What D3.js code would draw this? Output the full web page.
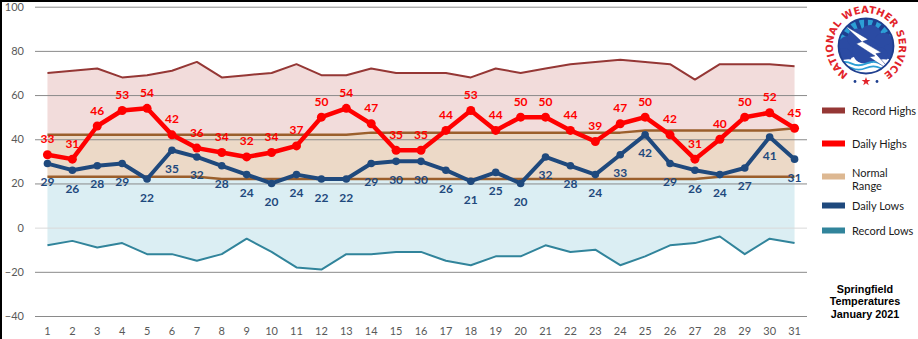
<!DOCTYPE html>
<html>
<head>
<meta charset="utf-8">
<script src="https://cdn.jsdelivr.net/npm/d3@7"></script>
<style>
  body { margin: 0; background: #fff; }
  svg { display: block; }
</style>
</head>
<body>
<svg id="chart"></svg>
<script>
const width = 918, height = 339;

// data, January 2021, Springfield
const days = d3.range(1, 32);
const recordHighs = [70,71,72,68,69,71,75,68,69,70,74,69,69,72,70,70,70,68,72,70,72,74,75,76,75,74,67,74,74,74,73];
const dailyHighs = [33,31,46,53,54,42,36,34,32,34,37,50,54,47,35,35,44,53,44,50,50,44,39,47,50,42,31,40,50,52,45];
const normalHighs = [42,42,42,42,42,42,42,42,42,42,42,42,42,43,43,43,43,43,43,43,43,43,43,43,44,44,44,44,44,44,45];
const normalLows = [23,23,23,23,23,23,23,22,22,22,22,22,22,22,22,22,22,22,22,22,22,22,22,22,22,22,22,23,23,23,23];
const dailyLows = [29,26,28,29,22,35,32,28,24,20,24,22,22,29,30,30,26,21,25,20,32,28,24,33,42,29,26,24,27,41,31];
const recordLows = [-8,-6,-9,-7,-12,-12,-15,-12,-5,-11,-18,-19,-12,-12,-11,-11,-15,-17,-13,-13,-8,-11,-10,-17,-13,-8,-7,-4,-12,-5,-7];
const yTicks = [-40,-20,0,20,40,60,80,100];
const legendNames = ["Record Highs", "Daily Highs", "Normal Range", "Daily Lows", "Record Lows"];
const legendColors = ["#953735", "#ff0000", "#ddb892", "#1f497d", "#31849b"];
const titleLines = ["Springfield", "Temperatures", "January 2021"];

const svg = d3.select("#chart").attr("width", width).attr("height", height);

const x = d3.scaleBand().domain(days).range([35, 807]).padding(0);
const cx = d => x(d) + x.bandwidth() / 2;
const y = d3.scaleLinear().domain([-40, 100]).range([316, 6.7]);

const rows = days.map((d, i) => ({
    day: d, rh: recordHighs[i], dh: dailyHighs[i], nh: normalHighs[i],
    nl: normalLows[i], dl: dailyLows[i], rl: recordLows[i]
}));

//shaded bands
const band = (lo, hi, fill) => svg.append("path")
    .datum(rows)
    .attr("fill", fill)
    .attr("d", d3.area().x(d => cx(d.day)).y0(d => y(d[lo])).y1(d => y(d[hi])));
band("nh", "rh", "#f2dcdb");
band("nl", "nh", "#ecd9c7");
band("rl", "nl", "#dbeef3");

//gridlines + y labels
const yAxis = svg.append("g")
    .attr("transform", "translate(35,0)")
    .call(d3.axisLeft(y).tickValues(yTicks).tickSize(-772).tickPadding(11));
yAxis.select(".domain").remove();
yAxis.selectAll(".tick line").attr("stroke", d => d === 0 ? "#d9d9d9" : "#8a8a8a").attr("stroke-width", 1);
yAxis.selectAll(".tick text")
    .attr("fill", "#595959")
    .style("font-family", "Lato, 'Liberation Sans', sans-serif")
    .style("font-size", "11px");

//x labels
const xAxis = svg.append("g")
    .attr("transform", "translate(0,316)")
    .call(d3.axisBottom(x).tickSize(0).tickPadding(11));
xAxis.select(".domain").remove();
xAxis.selectAll(".tick text")
    .attr("fill", "#595959")
    .style("font-family", "Lato, 'Liberation Sans', sans-serif")
    .style("font-size", "11px");

//lines
const line = (key, color, w) => svg.append("path")
    .datum(rows)
    .attr("fill", "none")
    .attr("stroke", color)
    .attr("stroke-width", w)
    .attr("stroke-linejoin", "round")
    .attr("d", d3.line().x(d => cx(d.day)).y(d => y(d[key])));

line("nh", "#9b5f2c", 2.5);
line("nl", "#9b5f2c", 2.5);
line("rh", "#953735", 2);
line("rl", "#31849b", 2);
line("dl", "#1f497d", 4);
line("dh", "#ff0000", 4.5);

//markers
svg.append("g").selectAll("circle")
    .data(rows).enter().append("circle")
    .attr("cx", d => cx(d.day)).attr("cy", d => y(d.dl)).attr("r", 3.8)
    .attr("fill", "#1f497d");
svg.append("g").selectAll("circle")
    .data(rows).enter().append("circle")
    .attr("cx", d => cx(d.day)).attr("cy", d => y(d.dh)).attr("r", 4.5)
    .attr("fill", "#ff0000");

//data labels
const labelFont = "Lato, 'Liberation Sans', sans-serif";
svg.append("g").selectAll("text")
    .data(rows).enter().append("text")
    .attr("x", d => cx(d.day)).attr("y", d => y(d.dh) - 11.5)
    .attr("text-anchor", "middle")
    .text(d => d.dh)
    .style("fill", "#ff0000").style("font-weight", "bold")
    .style("font-family", labelFont).style("font-size", "12px");
svg.append("g").selectAll("text")
    .data(rows).enter().append("text")
    .attr("x", d => cx(d.day)).attr("y", d => y(d.dl) + 22.5)
    .attr("text-anchor", "middle")
    .text(d => d.dl)
    .style("fill", "#1f497d").style("font-weight", "bold")
    .style("font-family", labelFont).style("font-size", "12px");

//legend
const legendY = [110.5, 143.5, 176.5, 205.5, 230.5];
const lg = svg.append("g").selectAll("g")
    .data(legendNames).enter().append("g")
    .attr("transform", (d, i) => `translate(822,${legendY[i]})`);
lg.append("rect")
    .attr("x", 0).attr("y", -3).attr("width", 23).attr("height", 6)
    .attr("fill", (d, i) => legendColors[i]);
lg.append("text")
    .attr("x", 30).attr("y", 4)
    .style("font-family", labelFont).style("font-size", "11px").style("fill", "#1a1a1a")
    .each(function (d) {
        const parts = d === "Normal Range" ? ["Normal", "Range"] : [d];
        d3.select(this).selectAll("tspan").data(parts).enter().append("tspan")
            .attr("x", 30).attr("dy", (p, j) => parts.length > 1 ? (j === 0 ? -4 : 13) : 0)
            .text(p => p);
    });

//title
svg.append("g").selectAll("text")
    .data(titleLines).enter().append("text")
    .attr("x", 865).attr("y", (d, i) => 293 + i * 12.3)
    .attr("text-anchor", "middle")
    .text(d => d)
    .style("font-family", "'Liberation Sans', Arial, sans-serif")
    .style("font-weight", "bold").style("font-size", "10.8px").style("fill", "#000");

//NWS logo
const lx = 866, ly = 46;
const logo = svg.append("g");
logo.append("clipPath").attr("id", "inner").append("circle").attr("cx", lx).attr("cy", ly).attr("r", 25);
const inner = logo.append("g")
    .attr("transform", `translate(${lx},${ly}) scale(1.1) translate(${-lx},${-ly})`)
    .append("g").attr("clip-path", "url(#inner)");
inner.append("rect").attr("x", lx - 26).attr("y", ly - 26).attr("width", 52).attr("height", 52).attr("fill", "#fff");
inner.append("rect").attr("x", lx - 26).attr("y", ly - 26).attr("width", 52).attr("height", 26).attr("fill", "#2c9fd6");
d3.range(-60, 61, 20).forEach(a => {
    const r = a * Math.PI / 180;
    inner.append("line")
        .attr("x1", lx + Math.sin(r) * 14).attr("y1", ly - Math.cos(r) * 14)
        .attr("x2", lx + Math.sin(r) * 26).attr("y2", ly - Math.cos(r) * 26)
        .attr("stroke", "#1f3f8f").attr("stroke-width", 3.5);
});
[[850, 48, 10], [858, 40, 9], [870, 38, 10], [882, 44, 9], [888, 52, 7], [866, 52, 12], [846, 56, 7], [878, 56, 8]]
    .forEach(c => inner.append("circle").attr("cx", c[0]).attr("cy", c[1] - 1).attr("r", c[2]).attr("fill", "#2b4ba3"));
inner.append("path")
    .attr("d", `M${lx - 24},${ly + 14} q8,-4 16,0 t16,0 t16,0 L${lx + 26},${ly + 26} L${lx - 26},${ly + 26} Z`)
    .attr("fill", "#fff");
[ly + 16, ly + 20].forEach(wy => inner.append("path")
    .attr("d", `M${lx - 26},${wy} q7,-3 13,0 t13,0 t13,0 t13,0`)
    .attr("fill", "none").attr("stroke", "#2c9fd6").attr("stroke-width", 1.6));
inner.append("path")
    .attr("d", `M${lx - 20},${ly - 19} L${lx + 2},${ly - 6} L${lx - 3},${ly - 4} L${lx + 14},${ly + 6} L${lx + 9},${ly + 7} L${lx + 24},${ly + 24} L${lx + 3},${ly + 10} L${lx + 8},${ly + 9} L${lx - 9},${ly - 2} L${lx - 4},${ly - 4} Z`)
    .attr("fill", "#fff").attr("stroke", "#1f3f8f").attr("stroke-width", 0.5);
logo.append("circle").attr("cx", lx).attr("cy", ly).attr("r", 27.5)
    .attr("fill", "none").attr("stroke", "#1f3f8f").attr("stroke-width", 1.8);
const tr = 33;
logo.append("path").attr("id", "ring")
    .attr("d", `M${lx},${ly + tr} A${tr},${tr} 0 1 1 ${lx},${ly - tr} A${tr},${tr} 0 1 1 ${lx},${ly + tr}`)
    .attr("fill", "none");
logo.append("text")
    .style("font-family", "'DejaVu Sans', sans-serif").style("font-weight", "bold")
    .style("font-size", "10px").style("fill", "#e2232a")
    .append("textPath").attr("href", "#ring").attr("startOffset", "50%")
    .attr("text-anchor", "middle").attr("textLength", 170).attr("lengthAdjust", "spacing")
    .text("NATIONAL WEATHER SERVICE");
logo.append("circle").attr("cx", 855).attr("cy", 81.5).attr("r", 1.4).attr("fill", "#1f3f8f");
logo.append("circle").attr("cx", 877).attr("cy", 81.5).attr("r", 1.4).attr("fill", "#1f3f8f");
logo.append("path").attr("transform", "translate(866,81.5)")
    .attr("d", d3.symbol(d3.symbolStar, 24)()).attr("fill", "#e2232a");

//frame edges
svg.append("line").attr("x1", 0).attr("y1", 1).attr("x2", width).attr("y2", 1).attr("stroke", "#000").attr("stroke-width", 2);
svg.append("line").attr("x1", 1).attr("y1", 0).attr("x2", 1).attr("y2", height).attr("stroke", "#000").attr("stroke-width", 2);
</script>
</body>
</html>
